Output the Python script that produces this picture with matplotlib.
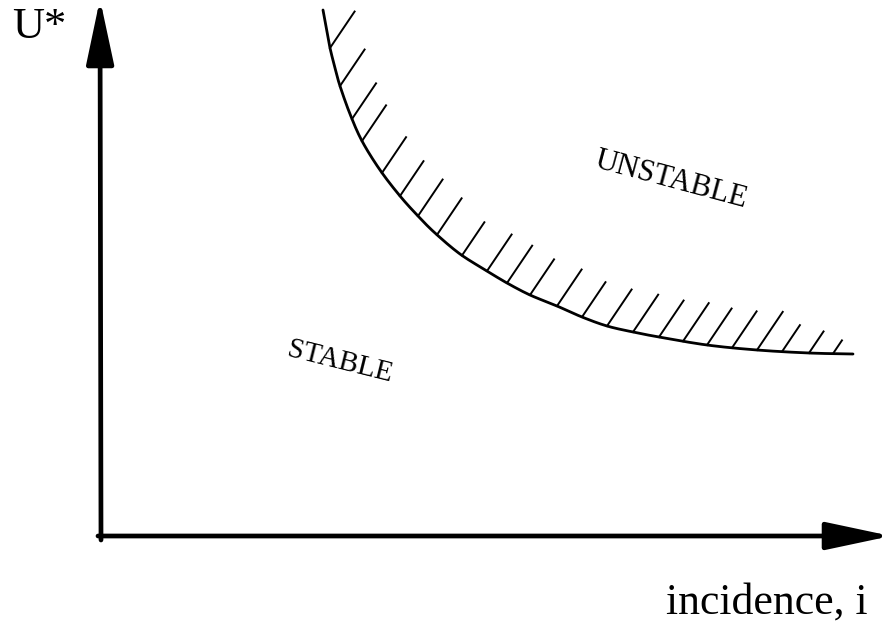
import numpy as np
import matplotlib.pyplot as plt

# stability boundary U*(i) (origin at the axes corner)
curve_i = [222, 226, 229, 234, 239, 249, 261, 279, 299, 317, 334, 359, 386,
           406, 429, 456, 481, 506, 532, 558, 606, 656, 708, 752]
curve_u = [526, 504, 488, 468, 450, 422, 395, 366, 340, 320, 303, 282, 265,
           253, 241, 230, 219, 210, 204, 199, 191, 186, 183, 182]

# hatch ticks on the unstable side
hatch_i = [229, 239, 251, 261, 281, 299, 317, 336, 361, 386, 406, 429, 456,
           481, 506, 532, 558, 582, 606, 631, 656, 681, 708, 732]
hatch_len = [44, 44, 43, 43, 43, 42, 44, 44, 40, 44, 45, 43, 44,
             42, 44, 45, 44, 46, 44, 44, 46, 32, 26, 16]
hatch_angle = np.deg2rad(56)

serif = ['Liberation Serif', 'DejaVu Serif']


def smooth(x, y, n=20):
    # catmull-rom through the read points, only to draw a smooth stroke
    p = np.column_stack([x, y]).astype(float)
    p = np.vstack([2 * p[0] - p[1], p, 2 * p[-1] - p[-2]])
    t = np.linspace(0, 1, n, endpoint=False)[:, None]
    out = []
    for k in range(1, len(p) - 2):
        p0, p1, p2, p3 = p[k - 1], p[k], p[k + 1], p[k + 2]
        out.append(0.5 * ((2 * p1) + (-p0 + p2) * t
                          + (2 * p0 - 5 * p1 + 4 * p2 - p3) * t ** 2
                          + (-p0 + 3 * p1 - 3 * p2 + p3) * t ** 3))
    out.append(p[-2][None, :])
    out = np.vstack(out)
    return out[:, 0], out[:, 1]


fig = plt.figure(figsize=(8.82, 6.23), dpi=100)
ax = fig.add_axes([0, 0, 1, 1])
ax.set_xlim(-101, 781)
ax.set_ylim(-87, 536)
ax.axis('off')

# axes with arrow heads
arrow = dict(arrowstyle='-|>,head_length=4.0,head_width=0.85', lw=3.4,
             color='black', shrinkA=0, shrinkB=0, mutation_scale=10)
ax.annotate('', xy=(-1, 537), xytext=(0, -4), arrowprops=arrow,
            annotation_clip=False)
ax.annotate('', xy=(790, 0), xytext=(-3, 0), arrowprops=arrow,
            annotation_clip=False)

# boundary curve
sx, sy = smooth(curve_i, curve_u)
ax.plot(sx, sy, color='black', lw=2.0, solid_capstyle='round')

# hatching
hx = np.array(hatch_i, dtype=float)
hy = np.interp(hx, sx, sy)
hl = np.array(hatch_len, dtype=float)
for x0, y0, L in zip(hx, hy, hl):
    ax.plot([x0, x0 + L * np.cos(hatch_angle)], [y0, y0 + L * np.sin(hatch_angle)],
            color='black', lw=1.4)

ax.text(-89, 498, 'U*', family=serif, fontsize=32, ha='left', va='baseline')
ax.text(767, -78, 'incidence, i', family=serif, fontsize=31.5, ha='right', va='baseline')
ax.text(239, 174, 'STABLE', family=serif, fontsize=21, rotation=-14,
        ha='center', va='center', rotation_mode='anchor')
ax.text(570, 356, 'UNSTABLE', family=serif, fontsize=22, rotation=-15,
        ha='center', va='center', rotation_mode='anchor')

fig.savefig('out.png', dpi=100)
